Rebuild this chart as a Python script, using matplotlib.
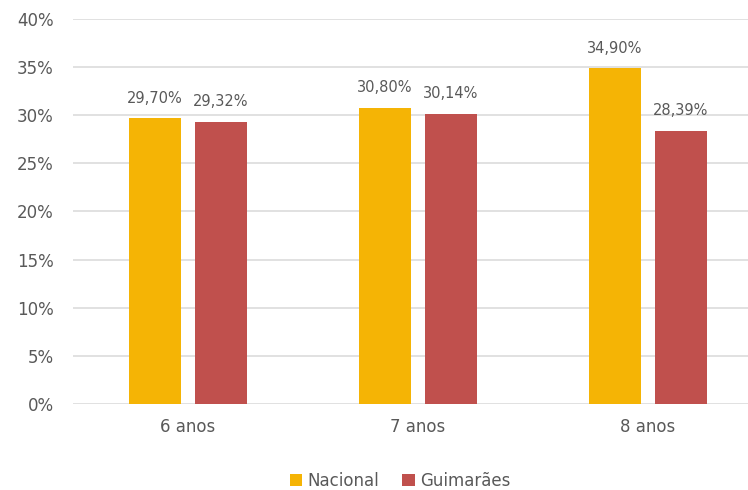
import matplotlib
matplotlib.use("Agg")
import matplotlib.pyplot as plt
import numpy as np

categories = ["6 anos", "7 anos", "8 anos"]
series_names = ["Nacional", "Guimarães"]
nacional = [29.70, 30.80, 34.90]
guimaraes = [29.32, 30.14, 28.39]
yticks = [0, 5, 10, 15, 20, 25, 30, 35, 40]

colors = ["#F5B405", "#C0504D"]
text_color = "#595959"

plt.rcParams['font.family'] = ['DejaVu Sans']

fig = plt.figure(figsize=(7.48, 4.9), dpi=100)
ax = fig.add_axes([73/748, 1-404/490, 690/748, 385/490])

x = np.arange(len(categories))
w = 0.226
off = 0.143
b1 = ax.bar(x - off, nacional, w, color=colors[0], label=series_names[0], zorder=3)
b2 = ax.bar(x + off, guimaraes, w, color=colors[1], label=series_names[1], zorder=3)

for bars, vals in ((b1, nacional), (b2, guimaraes)):
    for r, v in zip(bars, vals):
        ax.annotate(f"{v:.2f}".replace(".", ",") + "%",
                    (r.get_x() + r.get_width()/2, v),
                    xytext=(0, 9), textcoords="offset points",
                    ha="center", va="bottom", fontsize=10.5, color=text_color)

ax.set_xlim(-0.5, 2.5)
ax.set_ylim(0, 40)
ax.set_yticks(yticks)
ax.set_yticklabels([f"{t}%" for t in yticks])
ax.set_xticks(x)
ax.set_xticklabels(categories)
ax.tick_params(axis='both', length=0, labelsize=12, colors=text_color)
ax.tick_params(axis='y', pad=14)
ax.tick_params(axis='x', pad=10)
ax.grid(axis='y', color="#D9D9D9", linewidth=1.1, zorder=0)
for s in ax.spines.values():
    s.set_visible(False)
ax.set_axisbelow(True)

fig.legend(handles=[b1, b2], labels=series_names, loc="center",
           bbox_to_anchor=(400/748, 1-481/490), ncol=2, frameon=False,
           fontsize=12, labelcolor=text_color, handlelength=0.75,
           handleheight=0.75, handletextpad=0.3, columnspacing=1.4)

fig.savefig("out.png", dpi=100)
